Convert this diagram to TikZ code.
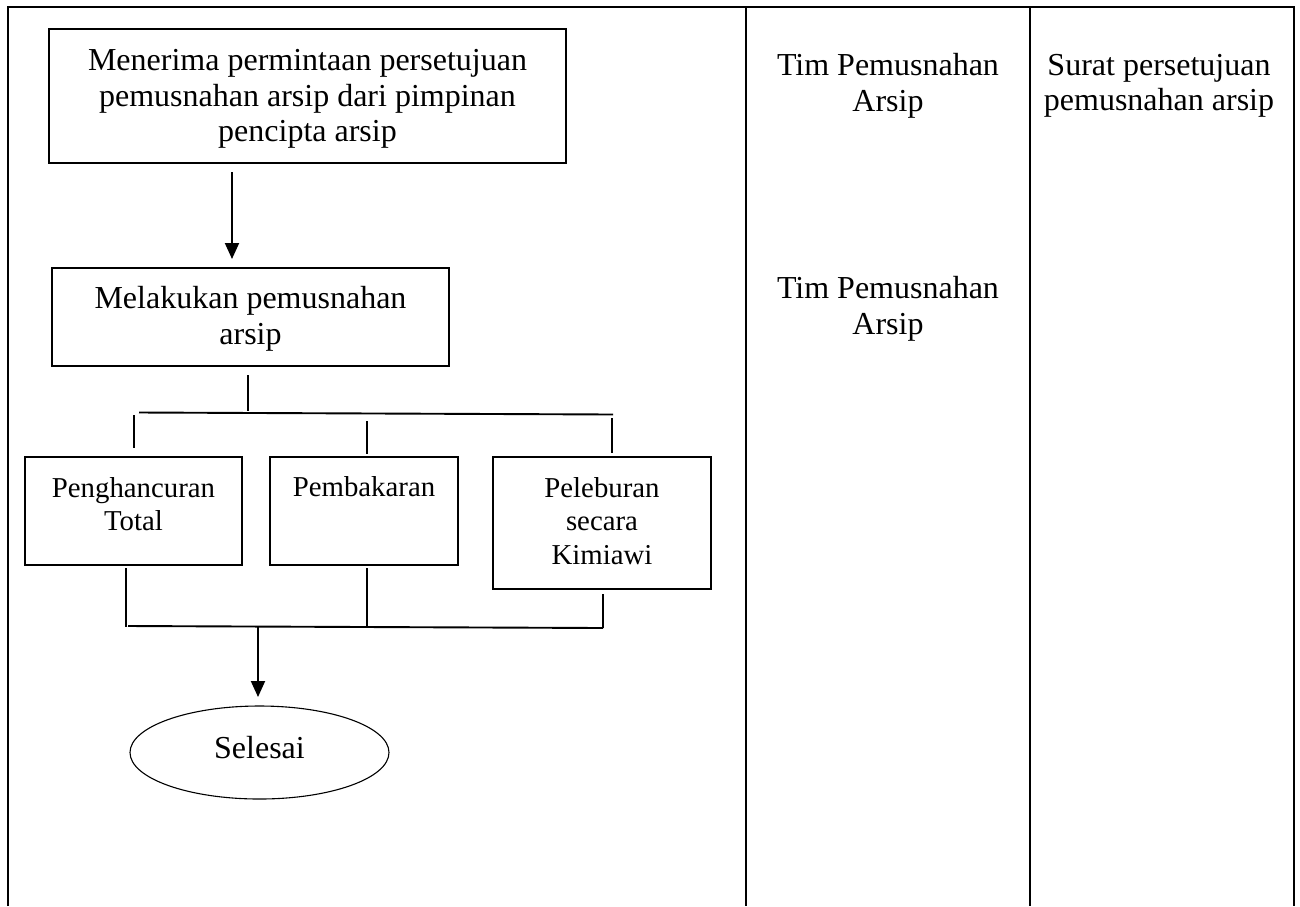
\documentclass[tikz,border=0pt]{standalone}
\usepackage{fontspec}
\setmainfont{Liberation Serif}
\usetikzlibrary{arrows.meta,shapes.geometric}
\begin{document}
\begin{tikzpicture}[x=1pt,y=-1pt,
  frameline/.style={line width=2.6pt},
  procbox/.style={draw,line width=1.9pt,rectangle,inner sep=0pt},
  endoval/.style={draw,ellipse,line width=1.1pt,inner sep=0pt},
  link/.style={line width=1.9pt},
  arrowlink/.style={line width=1.9pt,-{Triangle[length=16pt,width=14pt]}},
  bigtext/.style={font=\fontsize{32}{35.5}\selectfont,align=center,inner sep=0pt},
  smalltext/.style={font=\fontsize{28.8}{33.5}\selectfont,align=center,inner sep=0pt},
]
\useasboundingbox (0,0) rectangle (1300,906);

% table frame
\draw[frameline] (8,906) -- (8,7) -- (1294,7) -- (1294,906);
\draw[frameline] (746,7) -- (746,906);
\draw[frameline] (1030,7) -- (1030,906);

% right column texts
\node[bigtext] (who1) at (888,86) {Tim Pemusnahan\\Arsip};
\node[bigtext] (who2) at (888,309) {Tim Pemusnahan\\Arsip};
\node[bigtext] (doc1) at (1159,86) {Surat persetujuan\\pemusnahan arsip};

% boxes
\node[procbox,minimum width=517pt,minimum height=134pt] (b1) at (307.5,96) {};
\node[bigtext] (t1) at (307.5,99) {Menerima permintaan persetujuan\\pemusnahan arsip dari pimpinan\\pencipta arsip};

\node[procbox,minimum width=397pt,minimum height=98pt] (b2) at (250.5,317) {};
\node[bigtext] (t2) at (250.5,319) {Melakukan pemusnahan\\arsip};

\node[procbox,minimum width=217pt,minimum height=108pt] (b3) at (133.5,511) {};
\node[smalltext] (t3) at (133.5,504) {Penghancuran\\Total};

\node[procbox,minimum width=188pt,minimum height=108pt] (b4) at (364,511) {};
\node[smalltext] (t4) at (364,487) {Pembakaran};

\node[procbox,minimum width=218pt,minimum height=132pt] (b5) at (602,523) {};
\node[smalltext] (t5) at (602,521) {Peleburan\\secara\\Kimiawi};

\node[endoval,minimum width=259pt,minimum height=93pt] (e1) at (259.5,752.5) {};
\node[bigtext] (t6) at (259.5,748) {Selesai};

% connector points
\coordinate (a1s) at (232,172);
\coordinate (a1e) at (232,259);
\coordinate (d2s) at (248,375);
\coordinate (d2e) at (248,411);
\coordinate (hl) at (139,412.5);
\coordinate (hr) at (613,414.5);
\coordinate (v3s) at (134,415);
\coordinate (v3e) at (134,448);
\coordinate (v4s) at (367,421);
\coordinate (v4e) at (367,454);
\coordinate (v5s) at (612,418);
\coordinate (v5e) at (612,453);
\coordinate (u3s) at (126,568);
\coordinate (u3e) at (126,627);
\coordinate (u4s) at (367,568);
\coordinate (u4e) at (367,626);
\coordinate (u5s) at (603,594);
\coordinate (u5e) at (603,628);
\coordinate (jl) at (128,626);
\coordinate (jr) at (603,628);
\coordinate (a2s) at (258,627);
\coordinate (a2e) at (258,697);

% connectors
\draw[arrowlink] (a1s) -- (a1e);
\draw[link] (d2s) -- (d2e);
\draw[link] (hl) -- (hr);
\draw[link] (v3s) -- (v3e);
\draw[link] (v4s) -- (v4e);
\draw[link] (v5s) -- (v5e);
\draw[link] (u3s) -- (u3e);
\draw[link] (u4s) -- (u4e);
\draw[link] (u5s) -- (u5e);
\draw[link] (jl) -- (jr);
\draw[arrowlink] (a2s) -- (a2e);
\end{tikzpicture}
\end{document}
